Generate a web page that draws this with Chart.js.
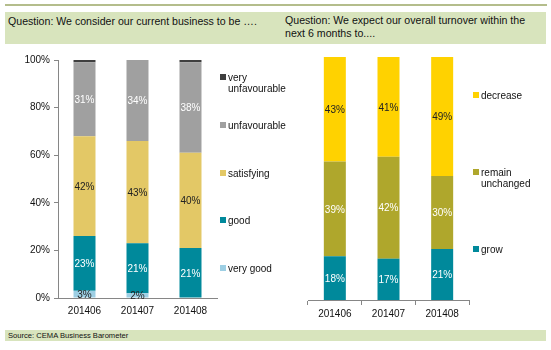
<!DOCTYPE html>
<html>
<head>
<meta charset="utf-8">
<script src="https://cdn.jsdelivr.net/npm/chart.js@4.4.0/dist/chart.umd.min.js"></script>
<style>
  body { margin: 0; background: #fff; font-family: "Liberation Sans", Arial, sans-serif; }
  #page { position: relative; width: 551px; height: 350px; overflow: hidden; }
  .topline { position: absolute; left: 5px; top: 4px; width: 542px; height: 2px; background: #b4bd8c; }
  .header { position: absolute; left: 5px; top: 12px; width: 541px; height: 32px; background: #d8e4bd; }
  .htext { position: absolute; font-size: 10.6px; color: #111; line-height: 13px; }
  .footer { position: absolute; left: 5px; top: 330px; width: 541px; height: 11px; background: #d8e4bd; }
  .ftext { position: absolute; left: 8px; top: 330px; font-size: 7.6px; line-height: 11px; color: #111; }
  .box { position: absolute; }
  .leg { position: absolute; font-size: 10px; line-height: 11px; color: #111; }
  .leg i { position: absolute; left: 0; top: 2px; width: 6px; height: 6px; }
  .leg span { display: block; padding-left: 8px; }
</style>
</head>
<body>
<div id="page">
  <div class="topline"></div>
  <div class="header"></div>
  <div class="htext" style="left:8px; top:15px;">Question: We consider our current business to be ….</div>
  <div class="htext" style="left:285px; top:14px;">Question: We expect our overall turnover within the<br>next 6 months to....</div>

  <div class="box" style="left:0; top:50px; width:225px; height:280px;"><canvas id="chartNow"></canvas></div>
  <div class="box" style="left:280px; top:50px; width:200px; height:280px;"><canvas id="chartTurnover"></canvas></div>
  <div id="legendNow"></div>
  <div id="legendTurnover"></div>

  <div class="footer"></div>
  <div class="ftext">Source: CEMA Business Barometer</div>
</div>
<script>
const months = ['201406', '201407', '201408'];

// current business (%)
const veryGood = [3, 2, 0];
const good = [23, 21, 21];
const satisfying = [42, 43, 40];
const unfavourable = [31, 34, 38];
const veryUnfavourable = [1, 0, 1];

// turnover expectation next 6 months (%)
const grow = [18, 17, 21];
const remainUnchanged = [39, 42, 30];
const decrease = [43, 41, 49];

const yTicks = [0, 20, 40, 60, 80, 100];

const axisColor = '#868686';
const font = { family: '"Liberation Sans", Arial, sans-serif', size: 10 };

// writes the % value in the middle of each segment
const valueLabels = {
  id: 'valueLabels',
  afterDatasetsDraw(chart) {
    const ctx = chart.ctx;
    ctx.save();
    ctx.font = '10px "Liberation Sans", Arial, sans-serif';
    ctx.textAlign = 'center';
    ctx.textBaseline = 'middle';
    chart.data.datasets.forEach((ds, i) => {
      const meta = chart.getDatasetMeta(i);
      meta.data.forEach((bar, j) => {
        const v = ds.data[j];
        if (v < 2) return;
        ctx.fillStyle = ds.labelColor;
        ctx.fillText(v + '%', bar.x, (bar.y + bar.base) / 2 + 1);
      });
    });
    ctx.restore();
  }
};

function makeLegend(id, chart, left, tops) {
  const box = document.getElementById(id);
  const items = chart.data.datasets.slice().reverse();
  items.forEach((ds, k) => {
    const d = document.createElement('div');
    d.className = 'leg';
    d.style.left = left + 'px';
    d.style.top = tops[k] + 'px';
    d.innerHTML = '<i style="background:' + ds.backgroundColor + '"></i><span>' +
      ds.label.split('\n').join('<br>') + '</span>';
    box.appendChild(d);
  });
}

const chartNow = new Chart(document.getElementById('chartNow'), {
  type: 'bar',
  data: {
    labels: months,
    datasets: [
      { label: 'very good', data: veryGood, backgroundColor: '#9dcfe4', labelColor: '#222' },
      { label: 'good', data: good, backgroundColor: '#00899b', labelColor: '#fff' },
      { label: 'satisfying', data: satisfying, backgroundColor: '#e3c866', labelColor: '#222' },
      { label: 'unfavourable', data: unfavourable, backgroundColor: '#a0a0a0', labelColor: '#fff' },
      { label: 'very\nunfavourable', data: veryUnfavourable, backgroundColor: '#3f3f3f', labelColor: '#fff' }
    ]
  },
  options: {
    responsive: true,
    maintainAspectRatio: false,
    animation: false,
    layout: { padding: { top: 7, right: 8, left: 0, bottom: 0 } },
    datasets: { bar: { barPercentage: 0.415, categoryPercentage: 1 } },
    plugins: { legend: { display: false }, tooltip: { enabled: false } },
    scales: {
      x: {
        stacked: true,
        grid: { display: true, drawOnChartArea: false, drawTicks: false, color: axisColor },
        border: { display: true, color: axisColor },
        ticks: { padding: 7, color: '#111', font: font },
        afterFit(scale) { scale.height = 32; }
      },
      y: {
        stacked: true,
        min: 0,
        max: 100,
        afterBuildTicks(scale) { scale.ticks = yTicks.map(v => ({ value: v })); },
        grid: { drawOnChartArea: false, drawTicks: true, tickLength: 4, color: axisColor },
        border: { display: true, color: axisColor },
        ticks: { padding: 4, color: '#111', font: font, callback: v => v + '%' },
        afterFit(scale) { scale.width = 58; }
      }
    }
  },
  plugins: [valueLabels]
});

const chartTurnover = new Chart(document.getElementById('chartTurnover'), {
  type: 'bar',
  data: {
    labels: months,
    datasets: [
      { label: 'grow', data: grow, backgroundColor: '#00899b', labelColor: '#fff' },
      { label: 'remain\nunchanged', data: remainUnchanged, backgroundColor: '#afa72c', labelColor: '#fff' },
      { label: 'decrease', data: decrease, backgroundColor: '#ffd200', labelColor: '#222' }
    ]
  },
  options: {
    responsive: true,
    maintainAspectRatio: false,
    animation: false,
    layout: { padding: { top: 7, right: 11, left: 28, bottom: 0 } },
    datasets: { bar: { barPercentage: 0.41, categoryPercentage: 1 } },
    plugins: { legend: { display: false }, tooltip: { enabled: false } },
    scales: {
      x: {
        stacked: true,
        grid: { display: true, offset: true, drawOnChartArea: false, drawTicks: true, tickLength: 5, color: axisColor },
        border: { display: true, color: axisColor },
        ticks: { padding: 3, color: '#111', font: font },
        afterFit(scale) { scale.height = 30; }
      },
      y: { stacked: true, min: 0, max: 100, display: false }
    }
  },
  plugins: [valueLabels]
});

makeLegend('legendNow', chartNow, 220, [72, 120, 168, 215, 263]);
makeLegend('legendTurnover', chartTurnover, 473, [90, 167, 244]);
</script>
</body>
</html>
